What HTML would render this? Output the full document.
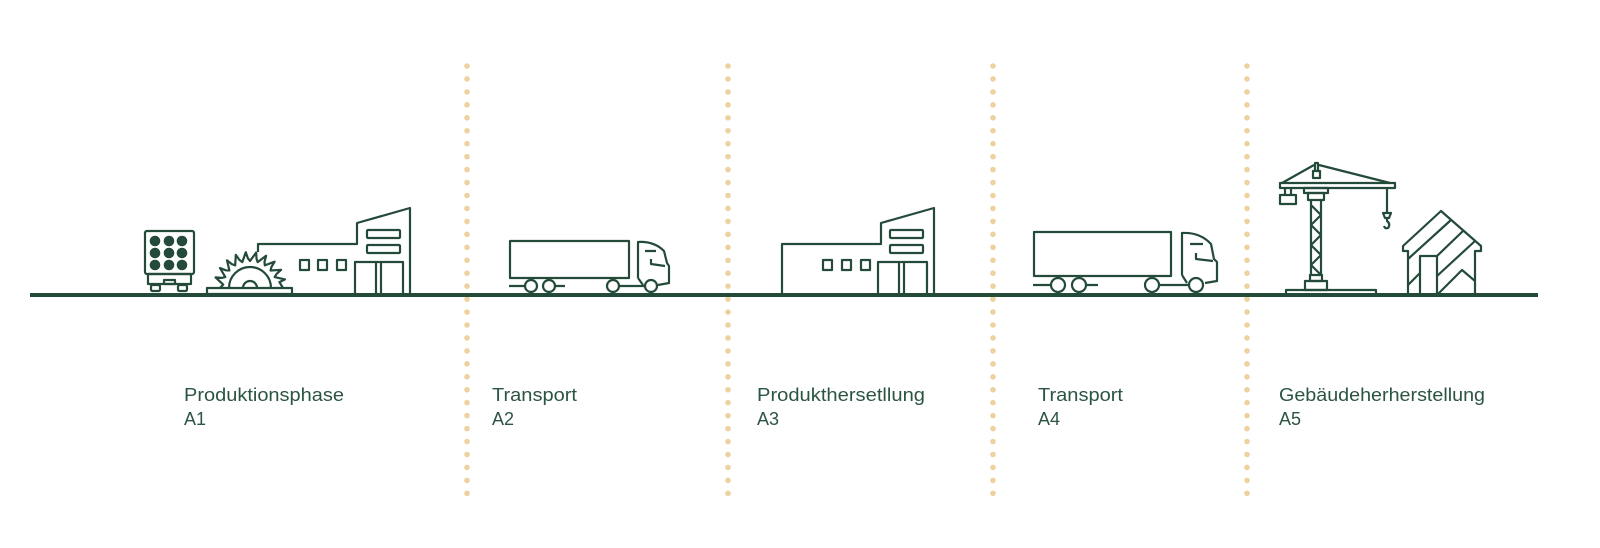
<!DOCTYPE html>
<html><head><meta charset="utf-8"><style>
html,body{margin:0;padding:0;background:#fff;width:1600px;height:548px;overflow:hidden}
svg{display:block}
text{font-family:"Liberation Sans",sans-serif;font-size:18px;fill:#2c5443}
</style></head><body>
<svg id="s" width="1600" height="548" viewBox="0 0 1600 548" xmlns="http://www.w3.org/2000/svg">
<g fill="#edd2a0">
<g id="dots"></g>
</g>
<g fill="none" stroke="#244a3a" stroke-width="2.2" stroke-linejoin="round">
<!-- log truck -->
<rect x="145" y="231" width="49" height="43" rx="2"/>
<rect x="148" y="274" width="43" height="10"/>
<rect x="164" y="280" width="11" height="4"/>
<rect x="151" y="285" width="9" height="6" rx="1.5"/>
<rect x="178" y="285" width="9" height="6" rx="1.5"/>
<!-- saw -->
<rect x="207" y="288" width="85" height="6"/>
<path d="M229,288 A21,21 0 0 1 271,288"/>
<path d="M243,288 A7,7 0 0 1 257,288"/>
<path id="teeth"/>
<!-- factory 1 -->
<path d="M258,252 V244 H357 V223 L410,208 V295"/>
<rect x="300" y="260" width="9" height="10"/><rect x="318" y="260" width="9" height="10"/><rect x="337" y="260" width="9" height="10"/>
<path d="M355,295 V262 H403 V295 M376,262 V295 M381,262 V295"/>
<rect x="367" y="230" width="33" height="8" rx="1"/><rect x="367" y="245" width="33" height="8" rx="1"/>
<!-- truck A2 -->
<rect x="510" y="241" width="119" height="37"/>
<path d="M509,286 H524 M556,286 H565 M619,286 H644"/>
<circle cx="531" cy="286" r="6"/><circle cx="549" cy="286" r="6"/><circle cx="613" cy="286" r="6"/><circle cx="651" cy="286" r="6"/>
<path d="M638,278 V242 Q654,241 664,251 L667,263 L669,266 V283 L658,285 M638,278 L643,285"/>
<path d="M645,251 H656 M651,259 V264 L665,266"/>
<!-- factory 3 -->
<path d="M782,295 V244 H881 V223 L934,208 V295"/>
<rect x="823" y="260" width="9" height="10"/><rect x="842" y="260" width="9" height="10"/><rect x="861" y="260" width="9" height="10"/>
<path d="M878,295 V262 H927 V295 M899,262 V295 M904,262 V295"/>
<rect x="890" y="230" width="33" height="8" rx="1"/><rect x="890" y="245" width="33" height="8" rx="1"/>
<!-- truck A4 -->
<rect x="1034" y="232" width="137" height="44"/>
<path d="M1033,285 H1050 M1087,285 H1098 M1160,285 H1188"/>
<circle cx="1058" cy="285" r="7"/><circle cx="1079" cy="285" r="7"/><circle cx="1152" cy="285" r="7"/><circle cx="1196" cy="285" r="7"/>
<path d="M1182,275 V233 Q1200,232 1211,244 L1214,259 L1217,262 V281 L1205,283 M1182,275 L1187,283"/>
<path d="M1190,244 H1203 M1196,253 V259 L1213,261"/>
<!-- crane -->
<rect x="1286" y="290" width="90" height="5"/>
<rect x="1305" y="281" width="22" height="9"/>
<rect x="1310" y="275" width="12" height="6"/>
<path d="M1311,200 V275 M1321,200 V275 M1311,205 L1321,215 L1311,225 L1321,235 L1311,245 L1321,255 L1311,265 L1321,275"/>
<rect x="1308" y="193" width="16" height="7"/>
<rect x="1304" y="188" width="24" height="5"/>
<rect x="1280" y="183" width="115" height="5"/>
<rect x="1313" y="171" width="7" height="7"/>
<path d="M1315,171 V163 H1318 V171 M1282,183 L1314,165 M1319,165 L1390,183"/>
<rect x="1280" y="195" width="16" height="9"/>
<path d="M1285,188 V195 M1291,188 V195 M1387,188 V213 M1383,213 H1391 L1389,218 H1385 Z M1387,218 V221 Q1391,224 1388,228 Q1385,229 1384,226"/>
<!-- house -->
<path d="M1408,295 V251 H1403 V246 L1441,211 L1481,246 V251 H1475 V295"/>
<rect x="1420" y="256" width="17" height="39"/>
<path d="M1408,259 L1451,220 M1408,285 L1420,273 M1437,256 L1463,231 M1437,276 L1475,241 M1437,295 L1462,270 L1475,281"/>
</g>
<rect x="30" y="293" width="1508" height="4" fill="#244a3a"/>
<g fill="#244a3a" id="logs"></g>
<text x="184" y="401" textLength="160" lengthAdjust="spacingAndGlyphs">Produktionsphase</text><text x="184" y="425">A1</text>
<text x="492" y="401" textLength="85" lengthAdjust="spacingAndGlyphs">Transport</text><text x="492" y="425">A2</text>
<text x="757" y="401" textLength="168" lengthAdjust="spacingAndGlyphs">Produkthersetllung</text><text x="757" y="425">A3</text>
<text x="1038" y="401" textLength="85" lengthAdjust="spacingAndGlyphs">Transport</text><text x="1038" y="425">A4</text>
<text x="1279" y="401" textLength="206" lengthAdjust="spacingAndGlyphs">Gebäudeherherstellung</text><text x="1279" y="425">A5</text>
</svg>
<script>
var ns="http://www.w3.org/2000/svg";
var d=document.getElementById("dots");
[467,728,993,1247].forEach(function(x){for(var y=66;y<=494;y+=12.95){var c=document.createElementNS(ns,"circle");c.setAttribute("cx",x);c.setAttribute("cy",y);c.setAttribute("r",2.8);d.appendChild(c);}});
var l=document.getElementById("logs");
[155,169,182].forEach(function(x){[241,253,265].forEach(function(y){var c=document.createElementNS(ns,"circle");c.setAttribute("cx",x);c.setAttribute("cy",y);c.setAttribute("r",5.3);l.appendChild(c);});});
var cx=250,cy=288,n=10;
var p="M"+(cx-30)+","+cy;
for(var i=0;i<n;i++){var a=Math.PI*(1+0.04+i/n*0.92),a2=Math.PI*(1+0.04+(i+0.6)/n*0.92),a3=Math.PI*(1+0.04+(i+0.75)/n*0.92);
p+=" L"+(cx+27*Math.cos(a)).toFixed(1)+","+(cy+27*Math.sin(a)).toFixed(1)+" L"+(cx+36*Math.cos(a2)).toFixed(1)+","+(cy+36*Math.sin(a2)).toFixed(1)+" L"+(cx+30*Math.cos(a3)).toFixed(1)+","+(cy+30*Math.sin(a3)).toFixed(1);}
p+=" L"+(cx+33)+","+cy;
document.getElementById("teeth").setAttribute("d",p);
</script>
</body></html>
